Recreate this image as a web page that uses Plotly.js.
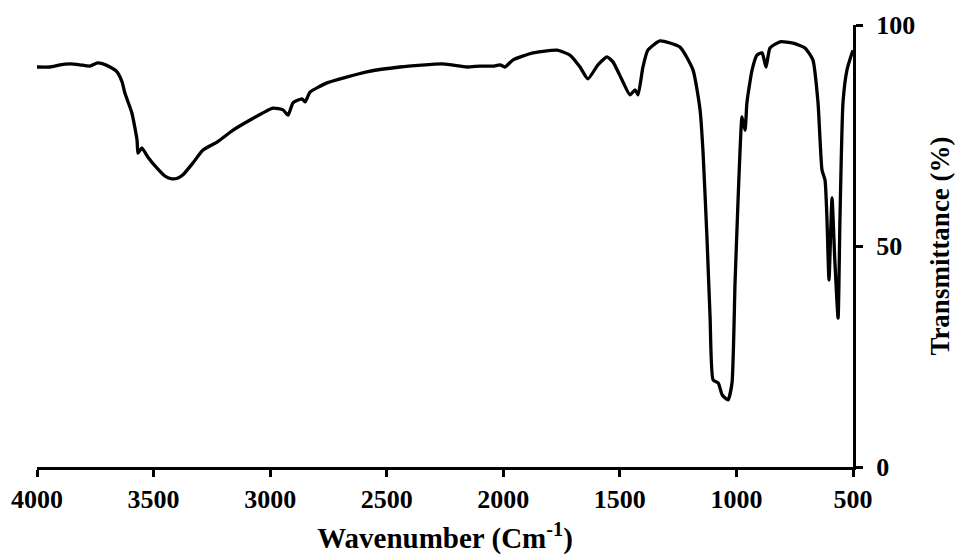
<!DOCTYPE html>
<html>
<head>
<meta charset="utf-8">
<script src="https://cdn.plot.ly/plotly-3.0.1.min.js"></script>
<style>
  html, body { margin: 0; padding: 0; background: #fff; }
  #chart { width: 956px; height: 555px; }
</style>
</head>
<body>
<div id="chart"></div>
<script>
// Wavenumber (cm^-1) and transmittance (%)
const wavenumber = [
  4000, 3944, 3923, 3901, 3858, 3816, 3773, 3743, 3717, 3687,
  3657, 3635, 3623, 3593, 3571, 3567, 3558, 3550, 3524, 3485,
  3451, 3421, 3395, 3374, 3331, 3288, 3228, 3159, 3086, 2988,
  2945, 2923, 2902, 2863, 2850, 2829, 2756, 2585, 2443, 2259,
  2156, 2100, 2044, 2014, 1993, 1958, 1873, 1770, 1714, 1671,
  1637, 1594, 1555, 1529, 1491, 1457, 1435, 1422, 1401, 1380,
  1328, 1242, 1186, 1156, 1143, 1126, 1113, 1100, 1078, 1061,
  1036, 1019, 1006, 993, 985, 976, 963, 955, 933, 912,
  890, 873, 856, 813, 757, 706, 672, 650, 633, 620,
  612, 603, 590, 578, 564, 556, 543, 526, 504, 500
];
const transmittance = [
  90.5, 90.5, 90.7, 91.0, 91.2, 91.0, 90.7, 91.4, 91.2, 90.5,
  89.4, 87.1, 84.6, 80.1, 74.0, 71.0, 71.7, 72.2, 70.1, 67.6,
  65.8, 65.2, 65.4, 66.1, 68.8, 71.7, 73.5, 76.2, 78.5, 81.2,
  80.8, 79.6, 82.4, 83.3, 82.6, 84.8, 86.9, 89.4, 90.5, 91.2,
  90.5, 90.7, 90.7, 91.0, 90.5, 92.1, 93.7, 94.3, 93.2, 90.5,
  87.8, 91.0, 92.8, 91.6, 87.6, 84.2, 85.3, 84.2, 90.5, 94.3,
  96.4, 95.0, 89.8, 80.8, 71.0, 51.4, 33.9, 19.7, 19.0, 16.3,
  15.2, 19.0, 41.6, 60.4, 71.0, 79.2, 76.2, 82.4, 89.8, 93.2,
  93.7, 90.5, 94.8, 96.2, 95.9, 94.8, 92.1, 82.4, 67.2, 64.9,
  56.6, 42.3, 60.9, 46.8, 33.7, 55.9, 82.4, 89.8, 93.7, 94.3
];
const xTicks = [4000, 3500, 3000, 2500, 2000, 1500, 1000, 500];
const yTicks = [0, 50, 100];

const FONT = '"Liberation Serif", "Times New Roman", serif';

const trace = {
  x: wavenumber,
  y: transmittance,
  type: 'scatter',
  mode: 'lines',
  line: { color: '#000000', width: 3.3, shape: 'spline', smoothing: 0.5 },
  hoverinfo: 'x+y'
};

const layout = {
  width: 956,
  height: 555,
  margin: { l: 37, r: 103, t: 25, b: 88 },
  paper_bgcolor: '#ffffff',
  plot_bgcolor: '#ffffff',
  showlegend: false,
  font: { family: FONT, color: '#000000' },
  xaxis: {
    range: [4000, 500],
    tickvals: xTicks,
    ticktext: xTicks.map(String),
    showgrid: false,
    zeroline: false,
    showline: true,
    linecolor: '#000000',
    linewidth: 3,
    ticks: 'outside',
    ticklen: 7,
    tickwidth: 3,
    tickcolor: '#000000',
    tickfont: { family: FONT, size: 26, color: '#000000', weight: 'bold' },
    title: {
      text: '<b>Wavenumber (Cm<sup>-1</sup>)</b>',
      font: { family: FONT, size: 29, color: '#000000' },
      standoff: 17
    }
  },
  yaxis: {
    side: 'right',
    range: [0, 100],
    tickvals: yTicks,
    ticktext: yTicks.map(String),
    showgrid: false,
    zeroline: false,
    showline: true,
    linecolor: '#000000',
    linewidth: 3,
    ticks: 'outside',
    ticklen: 7,
    tickwidth: 3,
    tickcolor: '#000000',
    ticklabelstandoff: 8,
    tickfont: { family: FONT, size: 26, color: '#000000', weight: 'bold' },
    title: {
      text: '<b>Transmittance (%)</b>',
      font: { family: FONT, size: 27, color: '#000000' },
      standoff: 16
    }
  }
};

Plotly.newPlot('chart', [trace], layout, { displayModeBar: false, staticPlot: true });
</script>
</body>
</html>
